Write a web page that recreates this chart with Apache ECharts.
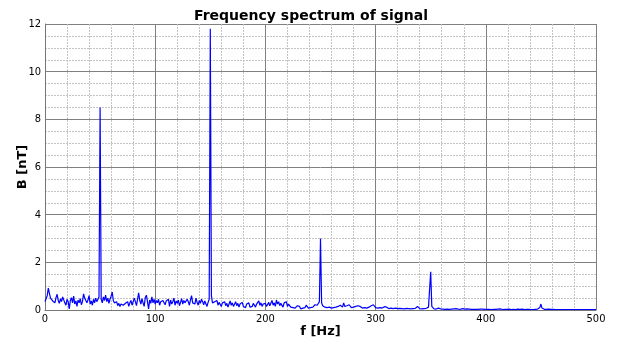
<!DOCTYPE html>
<html>
<head>
<meta charset="utf-8">
<script src="https://cdn.jsdelivr.net/npm/echarts@6/dist/echarts.min.js"></script>
<style>
  html, body { margin: 0; padding: 0; background: #fff; }
  #chart { width: 618px; height: 343px; }
</style>
</head>
<body>
<div id="chart"></div>
<script>
// frequency resolution of the spectrum [Hz]
const df = 1;

// amplitude B [nT], one value per Hz, split in 50 Hz blocks
const b000 = [0.35, 0.42, 0.6, 0.92, 0.7, 0.5, 0.58, 0.38, 0.45, 0.3, 0.52, 0.66, 0.4, 0.28, 0.47, 0.35, 0.55, 0.62, 0.3, 0.2,
  0.45, 0.36, 0.05, 0.4, 0.52, 0.3, 0.58, 0.25, 0.38, 0.15, 0.42, 0.3, 0.48, 0.22, 0.35, 0.68, 0.5, 0.55, 0.3, 0.42,
  0.6, 0.25, 0.38, 0.2, 0.45, 0.3, 0.5, 0.35, 0.28, 0.55];
const b050 = [8.5, 0.45, 0.3, 0.55, 0.4, 0.62, 0.35, 0.5, 0.28, 0.45, 0.58, 0.75, 0.4, 0.3, 0.22, 0.35, 0.18, 0.28, 0.15, 0.25,
  0.32, 0.2, 0.12, 0.28, 0.22, 0.35, 0.15, 0.3, 0.4, 0.2, 0.28, 0.5, 0.35, 0.18, 0.45, 0.72, 0.4, 0.25, 0.48, 0.3,
  0.15, 0.52, 0.62, 0.35, 0.05, 0.42, 0.28, 0.55, 0.3, 0.45];
const b100 = [0.25, 0.4, 0.3, 0.45, 0.2, 0.35, 0.28, 0.4, 0.32, 0.22, 0.38, 0.3, 0.45, 0.15, 0.42, 0.25, 0.35, 0.5, 0.2, 0.38,
  0.28, 0.42, 0.18, 0.32, 0.48, 0.25, 0.4, 0.3, 0.22, 0.45, 0.35, 0.2, 0.42, 0.6, 0.3, 0.38, 0.25, 0.5, 0.32, 0.2,
  0.4, 0.28, 0.45, 0.35, 0.22, 0.38, 0.3, 0.15, 0.32, 0.45];
const b150 = [11.8, 0.6, 0.3, 0.22, 0.35, 0.28, 0.4, 0.2, 0.32, 0.25, 0.15, 0.3, 0.22, 0.35, 0.18, 0.28, 0.12, 0.25, 0.38, 0.2,
  0.3, 0.15, 0.22, 0.35, 0.18, 0.28, 0.12, 0.25, 0.2, 0.32, 0.15, 0.22, 0.1, 0.25, 0.18, 0.3, 0.12, 0.2, 0.15, 0.28,
  0.22, 0.12, 0.25, 0.18, 0.38, 0.2, 0.3, 0.15, 0.25, 0.2];
const b200 = [0.28, 0.15, 0.22, 0.32, 0.18, 0.25, 0.4, 0.2, 0.3, 0.15, 0.42, 0.25, 0.35, 0.18, 0.28, 0.2, 0.12, 0.3, 0.22, 0.35,
  0.15, 0.25, 0.18, 0.12, 0.2, 0.1, 0.15, 0.08, 0.12, 0.18, 0.1, 0.15, 0.05, 0.12, 0.08, 0.15, 0.1, 0.2, 0.12, 0.08,
  0.15, 0.1, 0.05, 0.12, 0.18, 0.22, 0.15, 0.2, 0.28, 0.35];
const b250 = [3.0, 0.3, 0.18, 0.22, 0.12, 0.15, 0.1, 0.18, 0.12, 0.2, 0.08, 0.15, 0.1, 0.18, 0.12, 0.08, 0.15, 0.1, 0.2, 0.15,
  0.12, 0.3, 0.15, 0.1, 0.18, 0.12, 0.22, 0.15, 0.1, 0.18, 0.12, 0.08, 0.15, 0.12, 0.18, 0.1, 0.15, 0.12, 0.08, 0.15,
  0.1, 0.12, 0.08, 0.15, 0.12, 0.1, 0.18, 0.12, 0.22, 0.15];
const b300 = [0.1, 0.12, 0.08, 0.15, 0.1, 0.12, 0.08, 0.1, 0.14, 0.08, 0.12, 0.1, 0.06, 0.1, 0.08, 0.12, 0.06, 0.1, 0.08, 0.12,
  0.06, 0.09, 0.07, 0.1, 0.06, 0.08, 0.05, 0.09, 0.07, 0.12, 0.06, 0.08, 0.05, 0.09, 0.06, 0.1, 0.07, 0.05, 0.15, 0.07,
  0.06, 0.09, 0.05, 0.08, 0.06, 0.12, 0.07, 0.1, 0.12, 0.2];
const b350 = [1.6, 0.15, 0.08, 0.05, 0.07, 0.04, 0.06, 0.08, 0.04, 0.05, 0.07, 0.04, 0.06, 0.03, 0.05, 0.04, 0.06, 0.03, 0.05, 0.04,
  0.03, 0.05, 0.04, 0.06, 0.03, 0.04, 0.05, 0.03, 0.04, 0.06, 0.03, 0.04, 0.03, 0.05, 0.03, 0.04, 0.06, 0.03, 0.04, 0.03,
  0.05, 0.03, 0.04, 0.03, 0.05, 0.04, 0.03, 0.04, 0.06, 0.03];
const b400 = [0.04, 0.03, 0.05, 0.03, 0.04, 0.02, 0.04, 0.03, 0.05, 0.03, 0.02, 0.04, 0.03, 0.05, 0.03, 0.02, 0.04, 0.03, 0.06, 0.03,
  0.02, 0.04, 0.03, 0.02, 0.04, 0.03, 0.05, 0.02, 0.03, 0.04, 0.02, 0.03, 0.02, 0.04, 0.03, 0.02, 0.04, 0.03, 0.02, 0.03,
  0.04, 0.02, 0.03, 0.02, 0.04, 0.03, 0.02, 0.04, 0.06, 0.1];
const b450 = [0.25, 0.08, 0.04, 0.03, 0.02, 0.03, 0.02, 0.04, 0.02, 0.03, 0.02, 0.03, 0.05, 0.02, 0.03, 0.02, 0.04, 0.02, 0.03, 0.02,
  0.03, 0.02, 0.04, 0.02, 0.03, 0.02, 0.03, 0.02, 0.04, 0.02, 0.03, 0.02, 0.03, 0.02, 0.04, 0.02, 0.03, 0.02, 0.03, 0.02,
  0.03, 0.02, 0.04, 0.02, 0.03, 0.02, 0.03, 0.02, 0.03, 0.02, 0.02];

const amplitude = [...b000, ...b050, ...b100, ...b150, ...b200, ...b250, ...b300, ...b350, ...b400, ...b450];
const spectrum = amplitude.map((b, i) => [i * df, b]);

const font = "DejaVu Sans";
const chart = echarts.init(document.getElementById("chart"), null, { renderer: "canvas" });

chart.setOption({
  animation: false,
  title: {
    text: "Frequency spectrum of signal",
    left: 306,
    textAlign: "center",
    top: 4,
    textStyle: { fontFamily: font, fontSize: 14, fontWeight: "bold", color: "#000" },
  },
  grid: { left: 45, right: 22, top: 24, bottom: 33, outerBoundsMode: "none", containLabel: false },
  xAxis: {
    type: "value",
    min: 0,
    max: 500,
    interval: 100,
    name: "f [Hz]",
    nameLocation: "middle",
    nameGap: 15,
    nameMoveOverlap: false,
    nameTextStyle: { fontFamily: font, fontSize: 13, fontWeight: "bold", color: "#000" },
    axisLine: { show: true, lineStyle: { color: "#777", width: 1 } },
    axisTick: { show: false },
    axisLabel: { fontFamily: "DejaVu Sans Condensed", fontSize: 11, color: "#000", margin: 4 },
    splitLine: { show: true, lineStyle: { color: "#808080", width: 1 } },
    minorTick: { show: false, splitNumber: 5 },
    minorSplitLine: { show: true, lineStyle: { color: "#c4c4c4", width: 1, type: [2, 1] } },
  },
  yAxis: {
    type: "value",
    min: 0,
    max: 12,
    interval: 2,
    name: "B [nT]",
    nameLocation: "middle",
    nameGap: 16,
    nameMoveOverlap: false,
    nameTextStyle: { fontFamily: font, fontSize: 13, fontWeight: "bold", color: "#000" },
    axisLine: { show: true, lineStyle: { color: "#777", width: 1 } },
    axisTick: { show: false },
    axisLabel: { fontFamily: "DejaVu Sans Condensed", fontSize: 11, color: "#000", margin: 4 },
    splitLine: { show: true, lineStyle: { color: "#808080", width: 1 } },
    minorTick: { show: false, splitNumber: 4 },
    minorSplitLine: { show: true, lineStyle: { color: "#c4c4c4", width: 1, type: [2, 1] } },
  },
  series: [
    {
      type: "line",
      data: spectrum,
      showSymbol: false,
      symbol: "none",
      lineStyle: { color: "#0000ff", width: 1.2 },
      itemStyle: { color: "#0000ff" },
    },
  ],
});
</script>
</body>
</html>
